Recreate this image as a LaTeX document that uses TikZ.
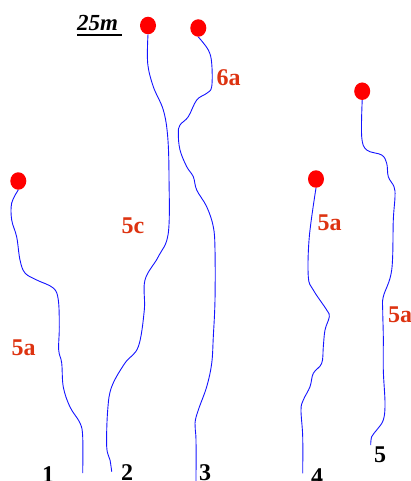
\documentclass[tikz,border=0pt]{standalone}
\usepackage{fontspec}
\setmainfont{Liberation Serif}
\definecolor{labred}{RGB}{221,51,17}
\definecolor{wireblue}{RGB}{20,20,255}
\begin{document}
\begin{tikzpicture}[x=1pt,y=-1pt,
  dot/.style={ellipse, fill=red, minimum width=16pt, minimum height=17.5pt, inner sep=0pt},
  wire/.style={draw=wireblue, line width=0.9pt, smooth, tension=0.6},
  seglabel/.style={font=\fontsize{24}{28}\bfseries\selectfont, text=labred, anchor=base west, inner sep=0pt},
  numlabel/.style={font=\fontsize{24}{28}\bfseries\selectfont, text=black, anchor=base, inner sep=0pt}]
\useasboundingbox (0,0) rectangle (410,481);
\usetikzlibrary{shapes.geometric}
% title
\node[font=\fontsize{23}{27}\bfseries\itshape\selectfont, anchor=base west, inner sep=0pt] (title) at (77,31) {25m};
\coordinate (ulA) at (77,35);
\coordinate (ulB) at (122,35);
\draw[line width=1.5pt] (ulA) -- (ulB);
% dots
\node[dot] (d1) at (18.3,181) {};
\node[dot] (d2) at (148,25.5) {};
\node[dot] (d3) at (198.3,28) {};
\node[dot] (d4) at (316,179) {};
\node[dot] (d5) at (362.2,91.2) {};
% ends
\coordinate (e1) at (82.7,473);
\coordinate (e2) at (111.7,471.7);
\coordinate (e3) at (196,481);
\coordinate (e4) at (302.7,473.3);
\coordinate (e5) at (370.7,445);
% wires
\draw[wire] plot coordinates {(d1.south) (11.7,203) (11.7,220) (16.7,237) (20,260) (25,273) (36.7,280) (53.3,288) (58.3,300) (59.3,327) (58.7,350) (61.7,363) (63.3,387) (70,407) (80,423) (82.7,437) (e1)};
\draw[wire] plot coordinates {(d2.south) (147.7,63.3) (153.3,86.7) (163.3,110) (167.7,136.7) (169,176.7) (168.3,233) (158.3,256.7) (145,280) (144.3,310) (138.3,346.7) (125,363) (111.7,386.7) (107.7,410) (106.7,446.7) (110,460) (e2)};
\draw[wire] plot coordinates {(d3.south) (208.3,50) (211.7,63.3) (211.7,86.7) (206.7,93.3) (196.7,100) (188.3,116.7) (180,125) (178.3,133.3) (180,150) (186.7,166.7) (193.3,176.7) (196.7,190) (206.7,206.7) (213.3,226.7) (215,250) (215,300) (213.3,336.7) (211.7,363.3) (206.7,386.7) (198.3,410) (195,423.3) (196,440) (e3)};
\draw[wire] plot coordinates {(d4.south) (309.3,236.7) (308.3,276.7) (313.3,290) (326.7,310) (329.3,316.7) (325,330) (323.3,346.7) (321.7,363.3) (313.3,373.3) (310,386.7) (303.3,400) (301,410) (302.7,436.7) (e4)};
\draw[wire] plot coordinates {(d5.south) (361.7,136.7) (366.7,150) (381.7,155) (386.7,163.3) (388.3,176.7) (394,186.7) (395,196.7) (393.3,220) (391.7,270) (383.3,296.7) (382.7,310) (383.3,336.7) (383.3,370) (385,403.3) (383.3,420) (376.7,430) (371.7,436.7) (e5)};
% segment labels
\node[seglabel] (l1) at (11.5,355) {5a};
\node[seglabel] (l2) at (121.5,233) {5c};
\node[seglabel] (l3) at (216.5,86) {6a};
\node[seglabel] (l4) at (317.5,230) {5a};
\node[seglabel] (l5) at (388,322) {5a};
% numbers
\node[numlabel] (n1) at (48,482) {1};
\node[numlabel] (n2) at (127,480) {2};
\node[numlabel] (n3) at (205,480) {3};
\node[numlabel] (n4) at (317,484) {4};
\node[numlabel] (n5) at (380,462) {5};
\end{tikzpicture}
\end{document}
